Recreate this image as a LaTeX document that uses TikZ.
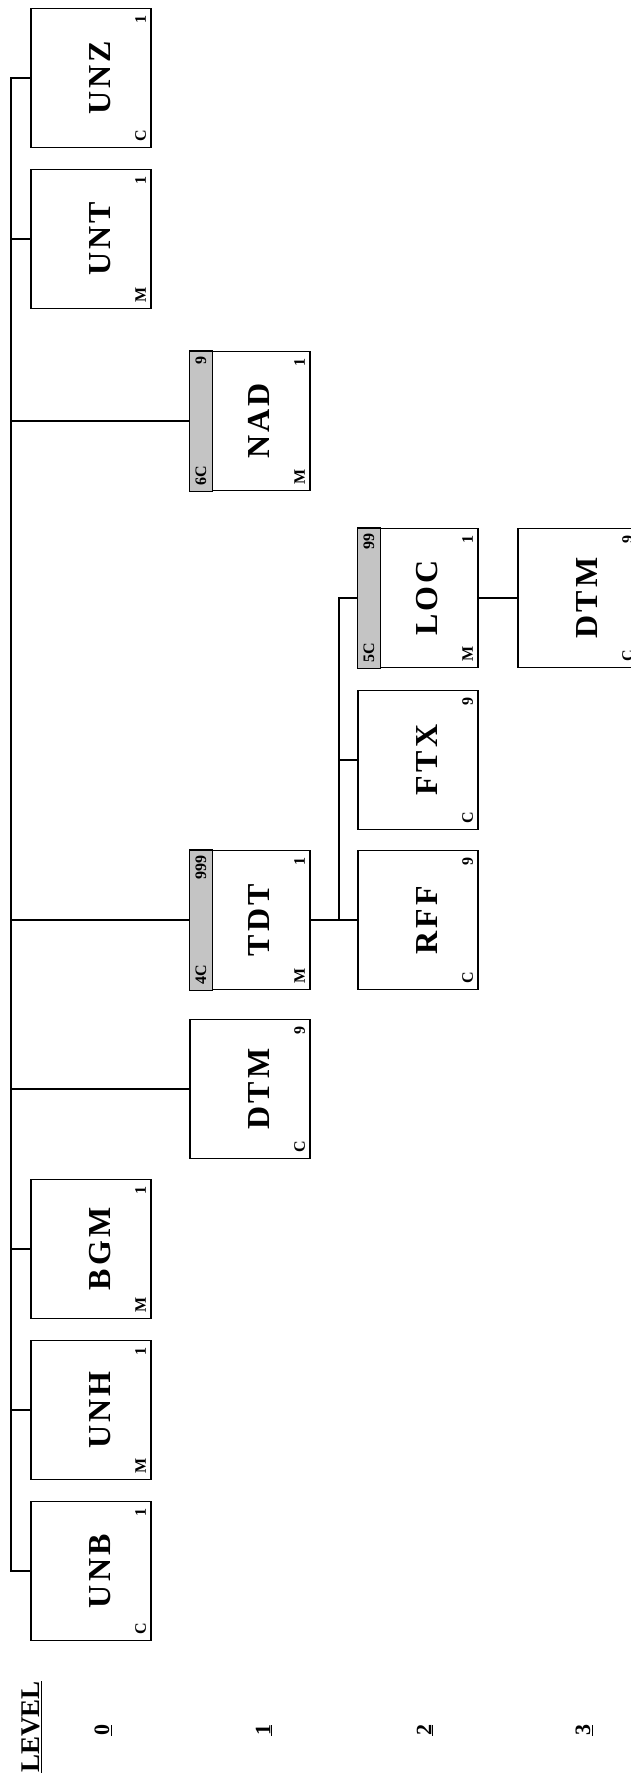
\documentclass[tikz,border=0pt]{standalone}
\usepackage{fontspec}
\setmainfont{Liberation Serif}
\newfontfamily\lblfont[LetterSpace=10]{Liberation Serif}
\definecolor{bandgray}{RGB}{196,196,196}
\tikzset{
  boxst/.style={draw=black, line width=1.3pt, fill=white, rectangle,
    minimum width=120pt, minimum height=139pt, inner sep=0pt},
  mainlbl/.style={rotate=90, inner sep=0pt, font=\lblfont\bfseries\fontsize{32}{32}\selectfont},
  cornerlbl/.style={rotate=90, inner sep=0pt, font=\bfseries\fontsize{16}{16}\selectfont},
  bandlbl/.style={rotate=90, inner sep=0pt, font=\bfseries\fontsize{16}{16}\selectfont},
  levellbl/.style={rotate=90, inner sep=0pt, font=\bfseries\fontsize{22}{22}\selectfont},
  conn/.style={draw=black, line width=1.3pt}
}
\newcommand\chartbox[6]{%
  \node[boxst] (#1) at (#2,#3) {};
  \node[mainlbl] (#1-lbl) at ([xshift=9pt]#1.center) {#4};
  \node[cornerlbl, anchor=west] (#1-br) at ([xshift=-11pt,yshift=6pt]#1.south east) {#5};
  \node[cornerlbl, anchor=east] (#1-tr) at ([xshift=-11pt,yshift=-7pt]#1.north east) {#6};
}
\newcommand\bandbox[2]{%
  \filldraw[fill=bandgray, draw=black, line width=1.3pt] (#1.north west) rectangle ([xshift=23pt]#1.south west);
  \node[bandlbl, anchor=west] (#1-bl) at ([xshift=11.5pt,yshift=5pt]#1.south west) {#2};
}
\newcommand\bandtop[2]{%
  \node[bandlbl, anchor=east] (#1-tl) at ([xshift=11.5pt,yshift=-5pt]#1.north west) {#2};
}
\begin{document}
\begin{tikzpicture}[x=1pt,y=-1pt]
\clip (0,0) rectangle (631,1778);
% level 0
\chartbox{UNZ}{91}{78}{UNZ}{C}{1}
\chartbox{UNT}{91}{239}{UNT}{M}{1}
\chartbox{BGM}{91}{1249}{BGM}{M}{1}
\chartbox{UNH}{91}{1410}{UNH}{M}{1}
\chartbox{UNB}{91}{1571}{UNB}{C}{1}
% level 1
\chartbox{NAD}{250}{421}{NAD}{M}{1}
\bandbox{NAD}{6C}\bandtop{NAD}{9}
\chartbox{TDT}{250}{920}{TDT}{M}{1}
\bandbox{TDT}{4C}\bandtop{TDT}{999}
\chartbox{DTMa}{250}{1089}{DTM}{C}{9}
% level 2
\chartbox{LOC}{418}{598}{LOC}{M}{1}
\bandbox{LOC}{5C}\bandtop{LOC}{99}
\chartbox{FTX}{418}{760}{FTX}{C}{9}
\chartbox{RFF}{418}{920}{RFF}{C}{9}
% level 3
\chartbox{DTMb}{578}{598}{DTM}{C}{9}
% trunk
\coordinate (trunk) at (11,0);
\coordinate (sub) at (339,0);
\draw[conn] (UNZ.west) -- (UNZ.west -| trunk) -- (UNB.west -| trunk) -- (UNB.west);
\foreach \n in {UNT,NAD,TDT,DTMa,BGM,UNH}{
  \draw[conn] (\n.west -| trunk) -- (\n.west);
}
\draw[conn] (TDT.east) -- (RFF.west);
\draw[conn] (LOC.west) -- (LOC.west -| sub) -- (RFF.west -| sub);
\draw[conn] (FTX.west -| sub) -- (FTX.west);
\draw[conn] (LOC.east) -- (DTMb.west);
% level legend
\node[levellbl, anchor=east, font=\bfseries\fontsize{27}{27}\selectfont] (lvl) at (32,1681) {\underline{LEVEL}};
\node[levellbl] (l0) at (103,1730) {\underline{0}};
\node[levellbl] (l1) at (264,1730) {\underline{1}};
\node[levellbl] (l2) at (425,1730) {\underline{2}};
\node[levellbl] (l3) at (584,1730) {\underline{3}};
\end{tikzpicture}
\end{document}
